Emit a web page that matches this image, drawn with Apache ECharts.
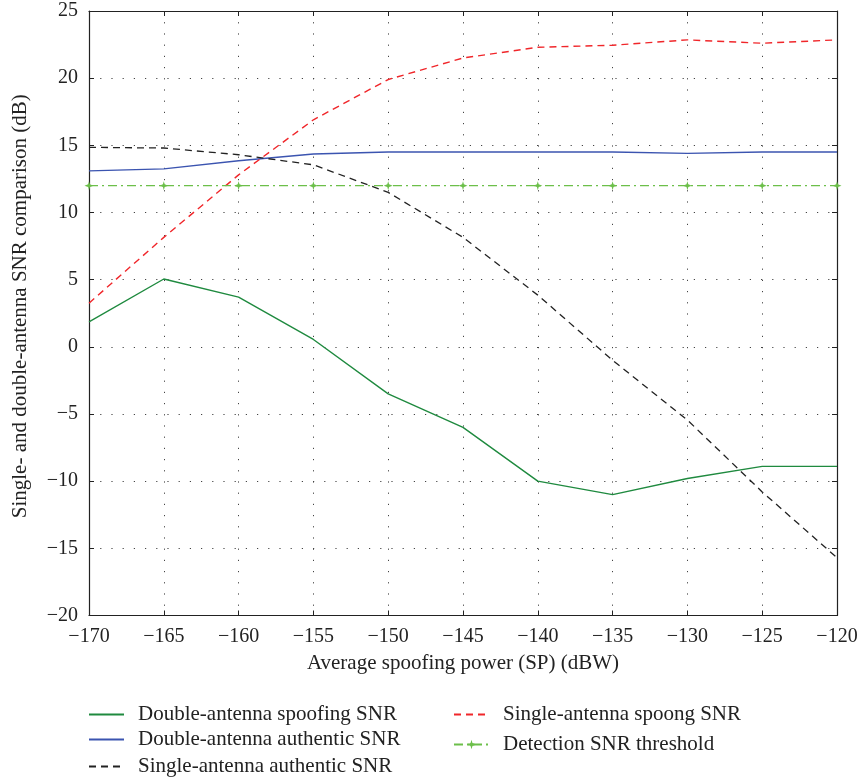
<!DOCTYPE html>
<html>
<head>
<meta charset="utf-8">
<script src="https://cdn.jsdelivr.net/npm/echarts@6/dist/echarts.min.js"></script>
<style>
html,body{margin:0;padding:0;background:#fff;}
#chart{width:862px;height:780px;}
</style>
</head>
<body>
<div id="chart"></div>
<script>
const powerSP = [-170, -165, -160, -155, -150, -145, -140, -135, -130, -125, -120];
const doubleSpoofing = [1.85, 5.05, 3.7, 0.55, -3.5, -6.0, -10.0, -11.0, -9.8, -8.9, -8.9];
const doubleAuthentic = [13.1, 13.25, 13.85, 14.35, 14.5, 14.5, 14.5, 14.5, 14.4, 14.5, 14.5];
const singleAuthentic = [14.85, 14.8, 14.3, 13.55, 11.5, 8.15, 3.85, -1.0, -5.45, -10.8, -15.7];
const singleSpoofing = [3.25, 8.15, 12.8, 16.9, 19.9, 21.5, 22.3, 22.45, 22.85, 22.6, 22.85];
const threshold = [12, 12, 12, 12, 12, 12, 12, 12, 12, 12, 12];
const seriesNames = [
  'Double-antenna spoofing SNR',
  'Double-antenna authentic SNR',
  'Single-antenna authentic SNR',
  'Single-antenna spoong SNR',
  'Detection SNR threshold'
];
const xAxisName = 'Average spoofing power (SP) (dBW)';
const yAxisName = 'Single- and double-antenna SNR comparison (dB)';

const FONT = '"Liberation Serif", "DejaVu Serif", serif';
const pairs = arr => powerSP.map((x, i) => [x, arr[i]]);
const minusFmt = v => String(v).replace('-', '\u2212');
const gridDots = { show: true, lineStyle: { color: '#444', type: [1.2, 10], width: 1 } };
const starPath = 'path://M10,0 L12,7 L20,10 L12,13 L10,20 L8,13 L0,10 L8,7 Z';

// legend placement: [left, top, itemHeight] per series
const legendSlots = [[88, 704, 22], [88, 729, 22], [88, 756, 22], [453, 704, 22], [453, 734, 12]];
const legends = seriesNames.map((n, i) => ({
  orient: 'horizontal', left: legendSlots[i][0], top: legendSlots[i][1],
  itemWidth: 35, itemHeight: legendSlots[i][2], padding: 0,
  textStyle: { fontFamily: FONT, fontSize: 21, color: '#222', padding: [0, 0, 0, 9] },
  data: [i === 4 ? { name: n } : { name: n, itemStyle: { opacity: 0 } }]
}));

const chart = echarts.init(document.getElementById('chart'), null, { renderer: 'canvas' });
chart.setOption({
  backgroundColor: '#fff',
  animation: false,
  textStyle: { fontFamily: FONT },
  grid: { left: 89, right: 25, top: 11, bottom: 164.5, containLabel: false },
  xAxis: [{
    type: 'value', min: -170, max: -120, interval: 5,
    name: xAxisName, nameLocation: 'middle', nameGap: 37,
    nameTextStyle: { fontFamily: FONT, fontSize: 21, color: '#222' },
    axisLine: { show: true, onZero: false, lineStyle: { color: '#222', width: 1.2 } },
    axisTick: { show: true, inside: true, length: 5, lineStyle: { color: '#222' } },
    axisLabel: { formatter: minusFmt, fontFamily: FONT, fontSize: 20, color: '#222', margin: 11 },
    splitLine: gridDots
  }, {
    type: 'value', min: -170, max: -120, interval: 5, position: 'top',
    axisLine: { show: true, onZero: false, lineStyle: { color: '#222', width: 1.2 } },
    axisTick: { show: true, inside: true, length: 5, lineStyle: { color: '#222' } },
    axisLabel: { show: false }, splitLine: { show: false }
  }],
  yAxis: [{
    type: 'value', min: -20, max: 25, interval: 5,
    name: yAxisName, nameLocation: 'middle', nameGap: 58, nameRotate: 90,
    nameTextStyle: { fontFamily: FONT, fontSize: 21, color: '#222', padding: [0, 0, 0, 14] },
    axisLine: { show: true, onZero: false, lineStyle: { color: '#222', width: 1.2 } },
    axisTick: { show: true, inside: true, length: 5, lineStyle: { color: '#222' } },
    axisLabel: { formatter: minusFmt, fontFamily: FONT, fontSize: 20, color: '#222', margin: 11 },
    splitLine: gridDots
  }, {
    type: 'value', min: -20, max: 25, interval: 5, position: 'right',
    axisLine: { show: true, onZero: false, lineStyle: { color: '#222', width: 1.2 } },
    axisTick: { show: true, inside: true, length: 5, lineStyle: { color: '#222' } },
    axisLabel: { show: false }, splitLine: { show: false }
  }],
  legend: legends,
  series: [{
    name: seriesNames[0], type: 'line', data: pairs(doubleSpoofing),
    symbol: 'none', color: '#1f8a3f',
    lineStyle: { color: '#1f8a3f', width: 1.4, type: 'solid' }
  }, {
    name: seriesNames[1], type: 'line', data: pairs(doubleAuthentic),
    symbol: 'none', color: '#3b54b0',
    lineStyle: { color: '#3b54b0', width: 1.4, type: 'solid' }
  }, {
    name: seriesNames[2], type: 'line', data: pairs(singleAuthentic),
    symbol: 'none', color: '#222',
    lineStyle: { color: '#222', width: 1.3, type: [7, 5] }
  }, {
    name: seriesNames[3], type: 'line', data: pairs(singleSpoofing),
    symbol: 'none', color: '#f0262a',
    lineStyle: { color: '#f0262a', width: 1.4, type: [7, 5] }
  }, {
    name: seriesNames[4], type: 'line', data: pairs(threshold),
    symbol: starPath, symbolSize: 9, color: '#6cbf4a',
    itemStyle: { color: '#6cbf4a' },
    lineStyle: { color: '#6cbf4a', width: 1.4, type: [9, 4, 2, 4] }
  }]
});
</script>
</body>
</html>
